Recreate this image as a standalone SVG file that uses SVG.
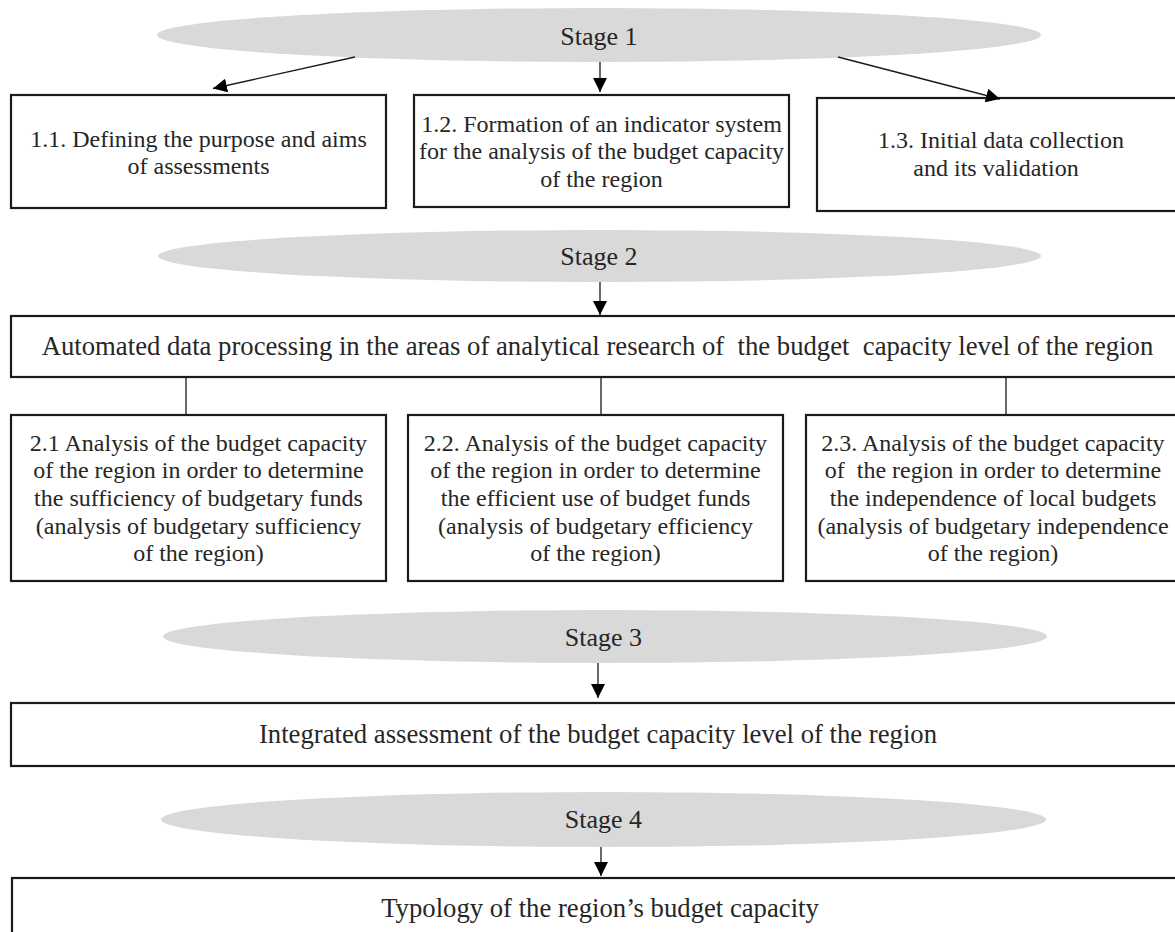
<svg xmlns="http://www.w3.org/2000/svg" width="1175" height="932" viewBox="0 0 1175 932">
<defs>
<style>
.stage{fill:#d9d9d9;stroke:none}
.box{fill:#fff;stroke:#1a1a1a;stroke-width:2.2}
.t{font-family:"Liberation Serif","Times New Roman",serif;font-size:24px;fill:#262626;text-anchor:middle;white-space:pre}
.big{font-size:26.7px}
.st{font-size:26px}
.conn{stroke:#1a1a1a;stroke-width:1.3;fill:none}
</style>
<marker id="ah" markerUnits="userSpaceOnUse" markerWidth="15" markerHeight="14" refX="14" refY="7" orient="auto">
<path d="M0,0 L14,7 L0,14 z" fill="#000"/>
</marker>
</defs>
<rect width="1175" height="932" fill="#fff"/>

<g id="stage1"><ellipse class="stage" cx="599" cy="35" rx="442" ry="27"/><text class="t st" x="599" y="45">Stage 1</text></g>
<g id="box11"><rect class="box" x="11" y="95" width="375" height="113"/>
<text class="t" x="198.5" y="147">1.1. Defining the purpose and aims</text>
<text class="t" x="198.5" y="174">of assessments</text></g>
<g id="box12"><rect class="box" x="414" y="95" width="375" height="112"/>
<text class="t" x="601.5" y="131.7">1.2. Formation of an indicator system</text>
<text class="t" x="601.5" y="159.3">for the analysis of the budget capacity</text>
<text class="t" x="601.5" y="186.7">of the region</text></g>
<g id="box13"><rect class="box" x="817" y="98" width="370" height="113"/>
<text class="t" x="1001" y="148.3">1.3. Initial data collection</text>
<text class="t" x="996" y="175.7">and its validation</text></g>

<g id="stage2"><ellipse class="stage" cx="599.5" cy="256" rx="441.5" ry="26"/><text class="t st" x="599" y="265">Stage 2</text></g>
<g id="main"><rect class="box" x="11" y="316" width="1175" height="61"/>
<text class="t big" x="597.5" y="355">Automated data processing in the areas of analytical research of  the budget  capacity level of the region</text></g>

<g id="box21"><rect class="box" x="11" y="415" width="375" height="166"/>
<text class="t" x="198.5" y="450.7">2.1 Analysis of the budget capacity</text>
<text class="t" x="198.5" y="478.3">of the region in order to determine</text>
<text class="t" x="198.5" y="506">the sufficiency of budgetary funds</text>
<text class="t" x="198.5" y="533.7">(analysis of budgetary sufficiency</text>
<text class="t" x="198.5" y="561.3">of the region)</text></g>
<g id="box22"><rect class="box" x="408" y="415" width="375" height="166"/>
<text class="t" x="595.5" y="450.7">2.2. Analysis of the budget capacity</text>
<text class="t" x="595.5" y="478.3">of the region in order to determine</text>
<text class="t" x="595.5" y="506">the efficient use of budget funds</text>
<text class="t" x="595.5" y="533.7">(analysis of budgetary efficiency</text>
<text class="t" x="595.5" y="561.3">of the region)</text></g>
<g id="box23"><rect class="box" x="806" y="415" width="380" height="166"/>
<text class="t" x="993" y="450.7">2.3. Analysis of the budget capacity</text>
<text class="t" x="993" y="478.3">of  the region in order to determine</text>
<text class="t" x="993" y="506">the independence of local budgets</text>
<text class="t" x="993" y="533.7">(analysis of budgetary independence</text>
<text class="t" x="993" y="561.3">of the region)</text></g>

<g id="stage3"><ellipse class="stage" cx="605" cy="636.5" rx="442" ry="26.5"/><text class="t st" x="603.5" y="646">Stage 3</text></g>
<g id="integrated"><rect class="box" x="11" y="703" width="1175" height="63"/>
<text class="t big" x="598" y="743">Integrated assessment of the budget capacity level of the region</text></g>

<g id="stage4"><ellipse class="stage" cx="603.5" cy="819.5" rx="442.5" ry="27.5"/><text class="t st" x="603.5" y="828">Stage 4</text></g>
<g id="typology"><rect class="box" x="12" y="878" width="1175" height="80"/>
<text class="t big" x="600" y="917">Typology of the region’s budget capacity</text></g>

<g id="connectors">
<line class="conn" x1="355" y1="57" x2="213" y2="88.5" marker-end="url(#ah)"/>
<line class="conn" x1="600" y1="62" x2="600" y2="92" marker-end="url(#ah)"/>
<line class="conn" x1="838" y1="57" x2="1000" y2="99" marker-end="url(#ah)"/>
<line class="conn" x1="600" y1="282" x2="600" y2="315" marker-end="url(#ah)"/>
<line class="conn" x1="186" y1="377" x2="186" y2="414"/>
<line class="conn" x1="601" y1="377" x2="601" y2="414"/>
<line class="conn" x1="1006" y1="377" x2="1006" y2="414"/>
<line class="conn" x1="598" y1="663" x2="598" y2="698" marker-end="url(#ah)"/>
<line class="conn" x1="601" y1="847" x2="601" y2="876" marker-end="url(#ah)"/>
</g>
</svg>
